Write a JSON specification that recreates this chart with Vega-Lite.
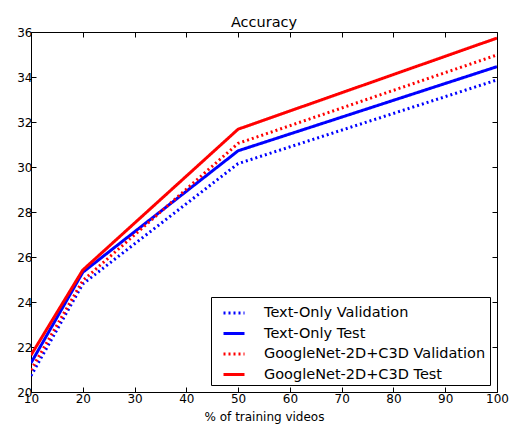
{
  "$schema": "https://vega.github.io/schema/vega-lite/v6.json",
  "width": 466,
  "height": 360,
  "autosize": {"type": "none"},
  "padding": {"left": 31, "top": 32, "right": 12, "bottom": 34},
  "background": "white",
  "title": {"text": "Accuracy", "font": "DejaVu Sans", "fontSize": 14.5, "fontWeight": "normal", "color": "black", "offset": 5, "dy": 9},
  "config": {
    "view": {"stroke": "black", "strokeWidth": 1},
    "axis": {"grid": false, "domain": false, "labelFlush": false, "labelFont": "DejaVu Sans", "labelFontSize": 12, "labelColor": "black", "tickColor": "black", "tickSize": -5, "titleFont": "DejaVu Sans", "titleFontSize": 12, "titleFontWeight": "normal", "titleColor": "black"}
  },
  "resolve": {"axis": {"x": "independent", "y": "independent"}},
  "data": {"values": [
    {"pct": 10, "acc": 20.72, "series": "Text-Only Validation"},
    {"pct": 20, "acc": 24.8, "series": "Text-Only Validation"},
    {"pct": 50, "acc": 30.15, "series": "Text-Only Validation"},
    {"pct": 100, "acc": 33.87, "series": "Text-Only Validation"},
    {"pct": 10, "acc": 21.29, "series": "Text-Only Test"},
    {"pct": 20, "acc": 25.32, "series": "Text-Only Test"},
    {"pct": 50, "acc": 30.72, "series": "Text-Only Test"},
    {"pct": 100, "acc": 34.46, "series": "Text-Only Test"},
    {"pct": 10, "acc": 20.98, "series": "GoogleNet-2D+C3D Validation"},
    {"pct": 20, "acc": 24.95, "series": "GoogleNet-2D+C3D Validation"},
    {"pct": 50, "acc": 31.05, "series": "GoogleNet-2D+C3D Validation"},
    {"pct": 100, "acc": 34.98, "series": "GoogleNet-2D+C3D Validation"},
    {"pct": 10, "acc": 21.64, "series": "GoogleNet-2D+C3D Test"},
    {"pct": 20, "acc": 25.42, "series": "GoogleNet-2D+C3D Test"},
    {"pct": 50, "acc": 31.68, "series": "GoogleNet-2D+C3D Test"},
    {"pct": 100, "acc": 35.73, "series": "GoogleNet-2D+C3D Test"}
  ]},
  "layer": [
    {
      "mark": {"type": "line", "strokeWidth": 3, "clip": true},
      "encoding": {
        "x": {"field": "pct", "type": "quantitative", "scale": {"domain": [10, 100], "nice": false, "zero": false}, "axis": {"title": "% of training videos", "values": [10,20,30,40,50,60,70,80,90,100], "titleY": 19, "titleBaseline": "top", "labelPadding": 6}},
        "y": {"field": "acc", "type": "quantitative", "scale": {"domain": [20, 36], "nice": false, "zero": false}, "axis": {"title": null, "values": [20,22,24,26,28,30,32,34,36], "labelPadding": 4}},
        "color": {"field": "series", "type": "nominal", "sort": ["Text-Only Validation", "Text-Only Test", "GoogleNet-2D+C3D Validation", "GoogleNet-2D+C3D Test"],
          "scale": {"domain": ["Text-Only Validation", "Text-Only Test", "GoogleNet-2D+C3D Validation", "GoogleNet-2D+C3D Test"], "range": ["#0000ff", "#0000ff", "#ff0000", "#ff0000"]},
          "legend": {"title": null, "orient": "bottom-right", "offset": 7, "symbolType": "stroke", "symbolSize": 441, "symbolStrokeWidth": 3, "symbolOffset": 7, "labelFont": "DejaVu Sans", "labelFontSize": 14.5, "labelColor": "black", "labelLimit": 400, "labelOffset": 18, "fillColor": "white", "strokeColor": "black", "padding": 4, "rowPadding": 1.5}},
        "strokeDash": {"field": "series", "type": "nominal", "sort": ["Text-Only Validation", "Text-Only Test", "GoogleNet-2D+C3D Validation", "GoogleNet-2D+C3D Test"],
          "scale": {"domain": ["Text-Only Validation", "Text-Only Test", "GoogleNet-2D+C3D Validation", "GoogleNet-2D+C3D Test"], "range": [[2, 3], [1, 0], [2, 3], [1, 0]]},
          "legend": null}
      }
    },
    {
      "mark": {"type": "point", "opacity": 0},
      "encoding": {
        "x": {"field": "pct", "type": "quantitative", "axis": {"orient": "top", "labels": false, "title": null, "values": [10,20,30,40,50,60,70,80,90,100]}},
        "y": {"field": "acc", "type": "quantitative", "axis": {"orient": "right", "labels": false, "title": null, "values": [20,22,24,26,28,30,32,34,36]}}
      }
    }
  ]
}
